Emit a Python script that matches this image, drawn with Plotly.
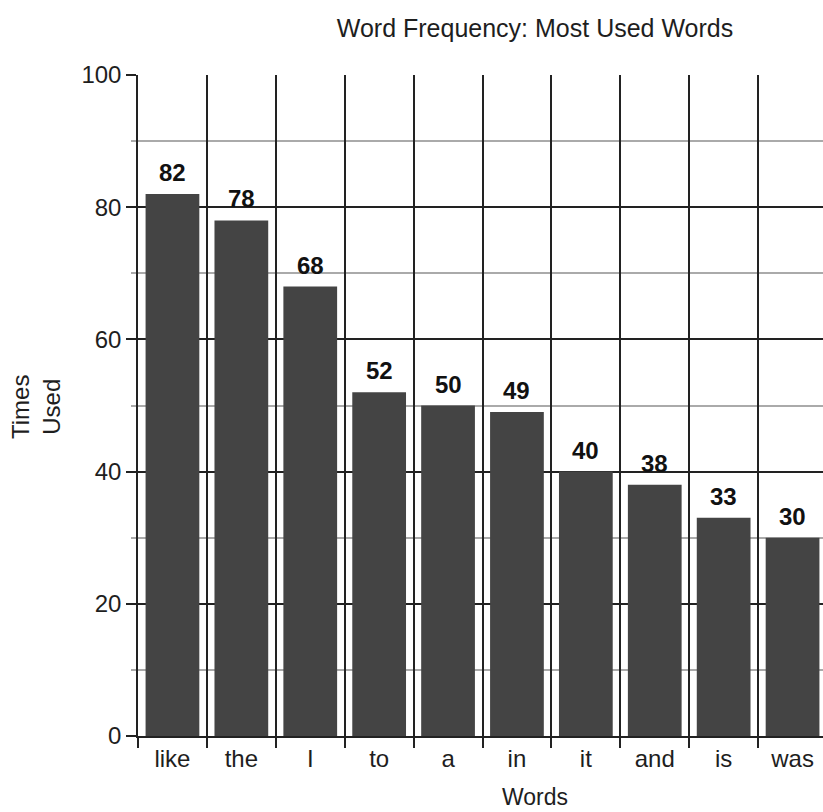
import plotly.graph_objects as go

# Most frequently used words and their counts
words = ["like", "the", "I", "to", "a", "in", "it", "and", "is", "was"]
counts = [82, 78, 68, 52, 50, 49, 40, 38, 33, 30]

title_text = "Word Frequency: Most Used Words"
x_title = "Words"
y_title = "Times<br>Used"
y_ticks = [0, 20, 40, 60, 80, 100]

FONT = "Arial, Liberation Sans, Helvetica, sans-serif"
BAR = "#444444"
INK = "#1e1e1e"

fig = go.Figure(
    go.Bar(
        x=words,
        y=counts,
        marker=dict(color=BAR, line=dict(width=0)),
        hoverinfo="x+y",
    )
)

# bold value labels sitting above each bar
for w, c in zip(words, counts):
    fig.add_annotation(
        x=w, y=c, text=f"<b>{c}</b>", showarrow=False,
        xref="x", yref="y", yanchor="bottom", yshift=6,
        font=dict(family=FONT, size=24, color="#111111"),
    )

# axis titles
fig.add_annotation(
    x=(535 - 138) / 685, y=(736 - 811) / 661, xref="paper", yref="paper",
    text=x_title, showarrow=False, xanchor="center", yanchor="bottom",
    borderpad=0,
    font=dict(family=FONT, size=23, color=INK),
)
fig.add_annotation(
    x=(36 - 138) / 685, y=(736 - 407) / 661, xref="paper", yref="paper",
    text=y_title, showarrow=False, textangle=-90,
    xanchor="center", yanchor="middle",
    font=dict(family=FONT, size=24, color=INK),
)

fig.update_layout(
    width=823,
    height=812,
    margin=dict(l=138, r=0, t=75, b=76),
    paper_bgcolor="white",
    plot_bgcolor="white",
    bargap=0.22,
    showlegend=False,
    font=dict(family=FONT, size=24, color=INK),
    title=dict(
        text=title_text, xref="container", yref="container",
        x=535 / 823, y=1 - 28 / 812, xanchor="center", yanchor="middle",
        font=dict(family=FONT, size=25, color=INK),
    ),
    xaxis=dict(
        range=[-0.5, -0.5 + 685 / 68.9],
        tickson="boundaries",
        showgrid=True, gridcolor="#222222", gridwidth=1.5,
        ticks="outside", ticklen=10, tickwidth=1.5, tickcolor="#222222",
        showline=True, linecolor="#222222", linewidth=1.5,
        tickfont=dict(family=FONT, size=24, color=INK),
        zeroline=False,
    ),
    yaxis=dict(
        range=[0, 100],
        tickvals=y_ticks,
        showgrid=True, gridcolor="#222222", gridwidth=1.5,
        ticks="outside", ticklen=10, tickwidth=1.5, tickcolor="#222222",
        showline=True, linecolor="#222222", linewidth=1.5,
        tickfont=dict(family=FONT, size=24, color=INK),
        zeroline=False,
        minor=dict(
            dtick=10, showgrid=True, gridcolor="#aaaaaa", gridwidth=1.5,
            ticks="outside", ticklen=5, tickcolor="#aaaaaa", tickwidth=1.5,
        ),
    ),
)

fig.write_html("out.html")
